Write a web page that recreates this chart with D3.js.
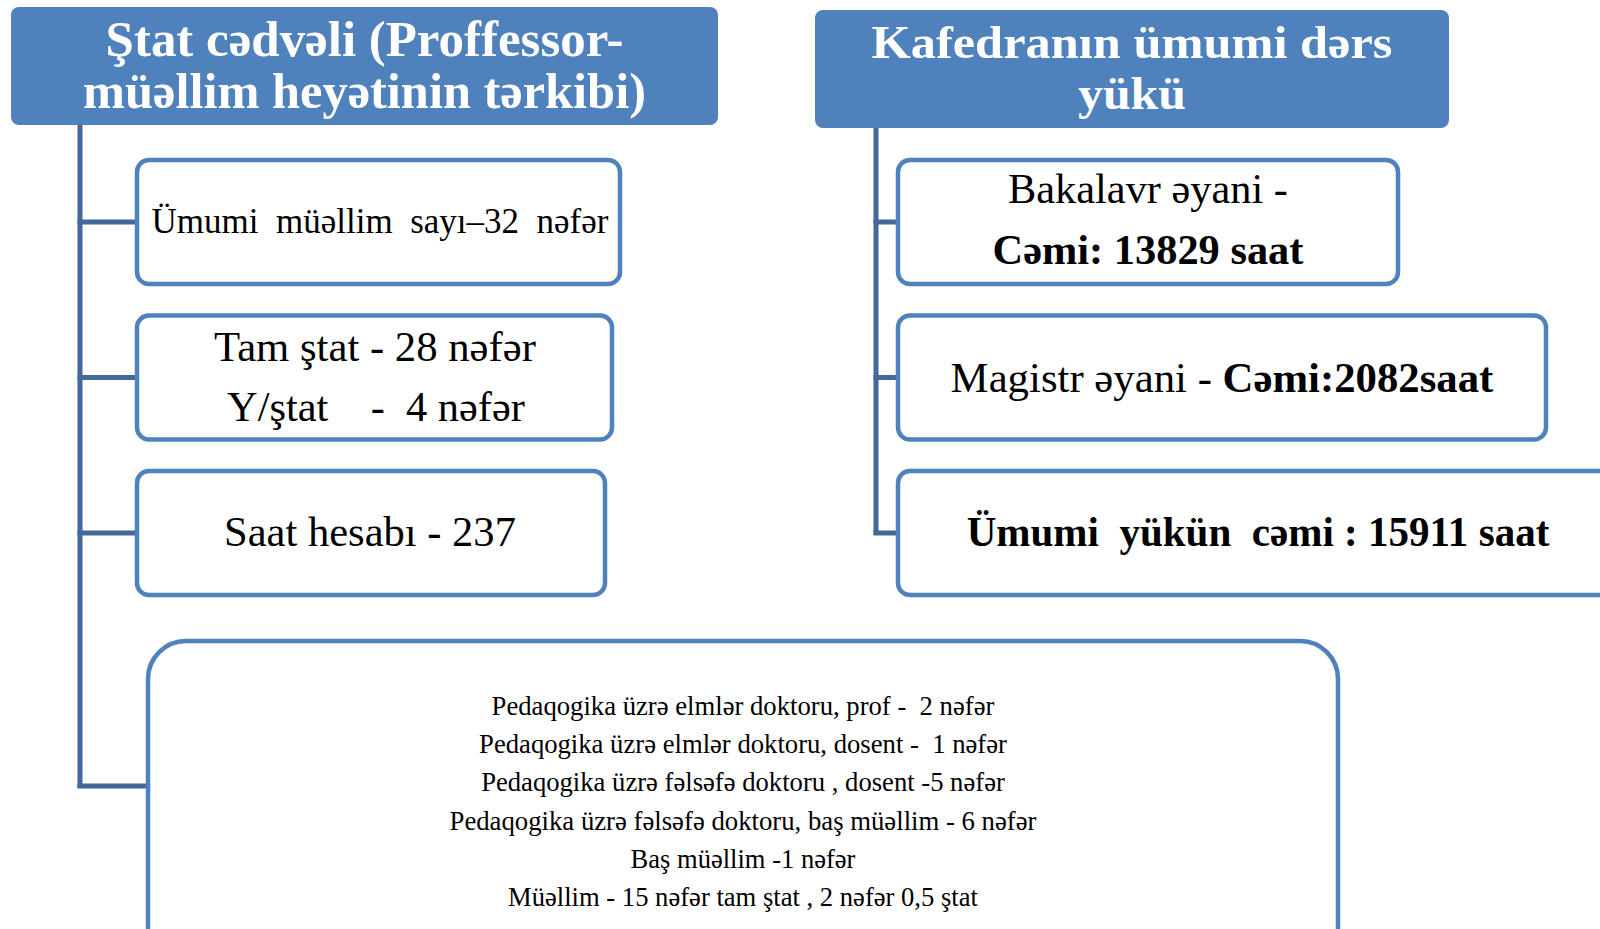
<!DOCTYPE html>
<html>
<head>
<meta charset="utf-8">
<script src="https://cdn.jsdelivr.net/npm/d3@7"></script>
<style>
  body { margin: 0; background: #fff; }
  svg { display: block; }
  text { font-family: "Liberation Serif", "Times New Roman", serif; white-space: pre; }
</style>
</head>
<body>
<script>
// header titles (two columns)
var headerLeft = ["Ştat cədvəli (Proffessor-", "müəllim heyətinin tərkibi)"];
var headerRight = ["Kafedranın ümumi dərs", "yükü"];

// left column boxes, each line is a list of [text, bold]
var leftItems = [
  [[["Ümumi  müəllim  sayı–32  nəfər", false]]],
  [[["Tam ştat - 28 nəfər", false]], [["Y/ştat    -  4 nəfər", false]]],
  [[["Saat hesabı - 237", false]]]
];

// right column boxes
var rightItems = [
  [[["Bakalavr əyani -", false]], [["Cəmi: 13829 saat", true]]],
  [[["Magistr əyani - ", false], ["Cəmi:2082saat", true]]],
  [[["Ümumi  yükün  cəmi : 15911 saat", true]]]
];

// staff composition list (bottom box)
var staffLines = [
  "Pedaqogika üzrə elmlər doktoru, prof -  2 nəfər",
  "Pedaqogika üzrə elmlər doktoru, dosent -  1 nəfər",
  "Pedaqogika üzrə fəlsəfə doktoru , dosent -5 nəfər",
  "Pedaqogika üzrə fəlsəfə doktoru, baş müəllim - 6 nəfər",
  "Baş müəllim -1 nəfər",
  "Müəllim - 15 nəfər tam ştat , 2 nəfər 0,5 ştat"
];

var width = 1600, height = 929;
var blue = "#4f81bd", lineBlue = "#42699a";

var svg = d3.select("body").append("svg")
    .attr("width", width)
    .attr("height", height);

// row positions for the child boxes
var row = d3.scalePoint().domain([0, 1, 2]).range([222, 533]);
var boxH = 124;

// fit a text element horizontally to a target width
function fit(sel, target) {
  sel.each(function() {
    var w = this.getComputedTextLength();
    var x = +d3.select(this).attr("x"), y = +d3.select(this).attr("y");
    var k = target / w;
    d3.select(this).attr("transform",
      "translate(" + x + "," + y + ") scale(" + k + ",1) translate(" + (-x) + "," + (-y) + ")");
  });
}

// ---------- headers ----------
function header(x0, x1, y0, y1, lines, baselines, widths, size) {
  svg.append("rect")
      .attr("x", x0).attr("y", y0)
      .attr("width", x1 - x0).attr("height", y1 - y0)
      .attr("rx", 8)
      .attr("fill", blue);
  lines.forEach(function(t, i) {
    svg.append("text")
        .attr("x", (x0 + x1) / 2)
        .attr("y", baselines[i])
        .attr("text-anchor", "middle")
        .attr("fill", "#fff")
        .style("font-weight", "bold")
        .style("font-size", size + "px")
        .text(t)
        .call(fit, widths[i]);
  });
}
header(11, 718, 7, 125, headerLeft, [56, 108], [518, 563], 50);
header(815, 1449, 10, 128, headerRight, [58, 109], [521, 108], 46);

// ---------- connectors ----------
function trunk(x, y0, ys, x1) {
  svg.append("line")
      .attr("x1", x).attr("x2", x)
      .attr("y1", y0).attr("y2", d3.max(ys) + 2)
      .attr("stroke", lineBlue).attr("stroke-width", 5);
  ys.forEach(function(y) {
    svg.append("line")
        .attr("x1", x - 2.5).attr("x2", x1)
        .attr("y1", y).attr("y2", y)
        .attr("stroke", lineBlue).attr("stroke-width", 5);
  });
}
trunk(80, 125, [row(0), row(1), row(2), 786], 148);
trunk(876, 128, [row(0), row(1), row(2)], 898);

// ---------- child boxes ----------
function boxes(x0, rights, items, layouts) {
  items.forEach(function(lines, i) {
    var cy = row(i);
    svg.append("rect")
        .attr("x", x0).attr("y", cy - boxH / 2)
        .attr("width", rights[i] - x0).attr("height", boxH)
        .attr("rx", 12)
        .attr("fill", "#fff")
        .attr("stroke", blue).attr("stroke-width", 4.5);
    var lay = layouts[i];
    lines.forEach(function(parts, j) {
      var t = svg.append("text")
          .attr("x", lay.cx[j])
          .attr("y", lay.base[j])
          .attr("xml:space", "preserve")
          .attr("text-anchor", "middle")
          .attr("fill", "#000")
          .style("font-size", lay.size + "px");
      parts.forEach(function(p) {
        t.append("tspan")
            .style("font-weight", p[1] ? "bold" : "normal")
            .text(p[0]);
      });
      t.call(fit, lay.w[j]);
    });
  });
}

boxes(137, [620, 612, 605], leftItems, [
  {size: 36, base: [233], cx: [380], w: [457]},
  {size: 42, base: [361, 421], cx: [375, 376], w: [322, 298]},
  {size: 42, base: [546], cx: [370], w: [292]}
]);

boxes(898, [1398, 1546, 1640], rightItems, [
  {size: 42, base: [203, 264], cx: [1148, 1148], w: [280, 311]},
  {size: 42, base: [392], cx: [1222], w: [543]},
  {size: 42, base: [546], cx: [1258], w: [583]}
]);

// ---------- bottom box ----------
svg.append("rect")
    .attr("x", 148).attr("y", 641)
    .attr("width", 1338 - 148).attr("height", 340)
    .attr("rx", 38)
    .attr("fill", "#fff")
    .attr("stroke", blue).attr("stroke-width", 4.5);

var staffY = d3.scalePoint().domain(d3.range(staffLines.length)).range([715, 906]);
var staffW = [503, 528, 524, 587, 225, 470];

svg.selectAll(".staff")
    .data(staffLines)
  .enter().append("text")
    .attr("class", "staff")
    .attr("x", 743)
    .attr("y", function(d, i) { return staffY(i); })
    .attr("xml:space", "preserve")
    .attr("text-anchor", "middle")
    .attr("fill", "#000")
    .style("font-size", "27px")
    .text(function(d) { return d; })
    .each(function(d, i) { d3.select(this).call(fit, staffW[i]); });
</script>
</body>
</html>
